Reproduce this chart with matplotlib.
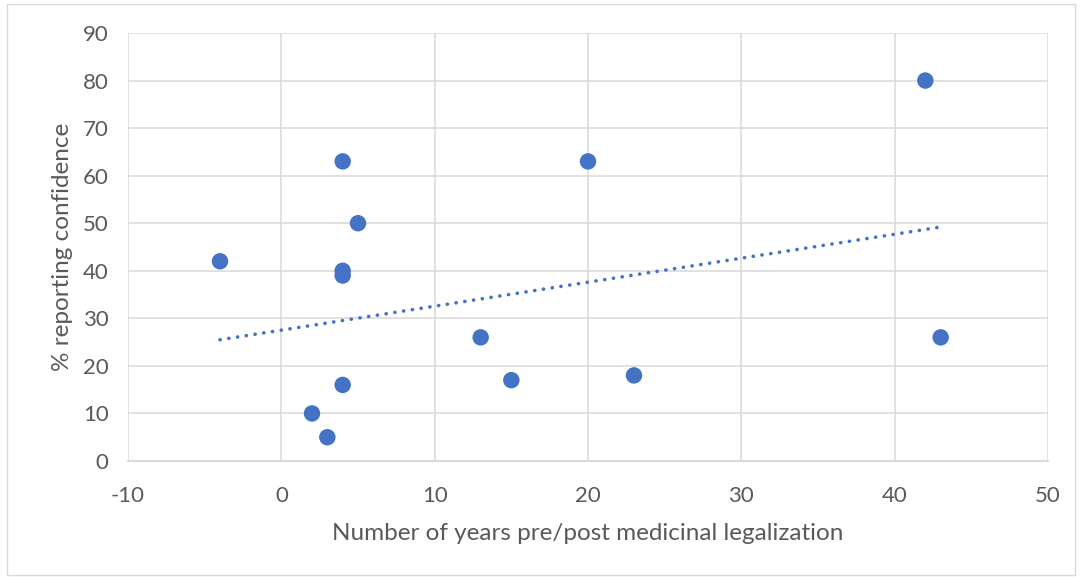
import matplotlib
matplotlib.use("Agg")
import matplotlib.pyplot as plt
from matplotlib.patches import Rectangle

years = [-4, 2, 3, 4, 4, 4, 4, 5, 13, 15, 20, 23, 42, 43]
confidence = [42, 10, 5, 63, 40, 39, 16, 50, 26, 17, 63, 18, 80, 26]
trend_x = [-4, 43]
trend_y = [25.5, 49.2]
x_ticks = [-10, 0, 10, 20, 30, 40, 50]
y_ticks = [0, 10, 20, 30, 40, 50, 60, 70, 80, 90]

plt.rcParams['font.family'] = ['Lato', 'DejaVu Sans']
plt.rcParams['axes.unicode_minus'] = False

fig = plt.figure(figsize=(10.80, 5.77), dpi=100)
ax = fig.add_axes([128/1080, 1 - 461/577, (1048-128)/1080, (461-33)/577])

grid_c = '#D9D9D9'
ax.set_xlim(-10, 50)
ax.set_ylim(0, 90)
ax.set_xticks(x_ticks)
ax.set_yticks(y_ticks)
ax.grid(True, color=grid_c, linewidth=1.1, zorder=0)
for s in ['top', 'right', 'left']:
    ax.spines[s].set_visible(False)
ax.spines['bottom'].set_color(grid_c)
ax.spines['bottom'].set_linewidth(1.3)
ax.tick_params(length=0, colors='#595959', labelsize=16)
ax.tick_params(axis='y', pad=14)
ax.tick_params(axis='x', pad=18)

ax.plot(trend_x, trend_y, color='#4472C4', linewidth=2.6,
        linestyle=(0, (0.05, 2.4)), dash_capstyle='round', zorder=2)
ax.scatter(years, confidence, s=140, color='#4472C4', edgecolors='none', zorder=3)

ax.set_xlabel('Number of years pre/post medicinal legalization', fontsize=17.5,
              color='#595959', labelpad=12)
ax.set_ylabel('% reporting confidence', fontsize=17.5, color='#595959', labelpad=7)

fig.patches.append(Rectangle((7/1080, 2/577), 1068/1080, 571/577, transform=fig.transFigure,
                             fill=False, edgecolor='#D9D9D9', linewidth=1.0))

fig.savefig('out.png', dpi=100, facecolor='white')
